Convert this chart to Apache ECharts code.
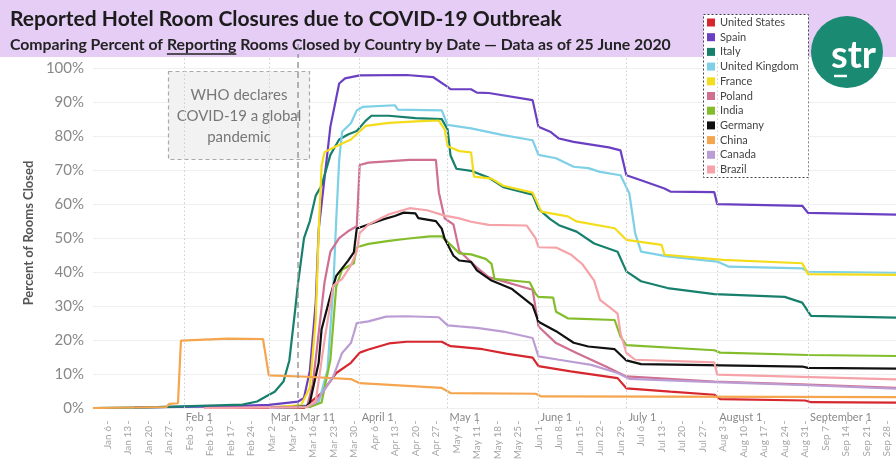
<!DOCTYPE html>
<html>
<head>
<meta charset="utf-8">
<script src="https://cdn.jsdelivr.net/npm/echarts@6/dist/echarts.min.js"></script>
<style>
  html, body { margin: 0; padding: 0; background: #fff; }
  #chart { width: 896px; height: 470px; }
</style>
</head>
<body>
<div id="chart"></div>
<script>
// 字体
const FONT = 'Lato, "Noto Sans", sans-serif';
const MONTHS = ['Jan', 'Feb', 'Mar', 'Apr', 'May', 'Jun', 'Jul', 'Aug', 'Sep', 'Oct', 'Nov', 'Dec'];

// 'M/D' (2020) -> days since Jan 6
const day = s => {
  const [m, d] = s.split('/').map(Number);
  return (Date.UTC(2020, m - 1, d) - Date.UTC(2020, 0, 6)) / 864e5;
};

// ---- data (percent of reporting rooms closed) ----
const countries = ['United States', 'Spain', 'Italy', 'United Kingdom', 'France', 'Poland',
  'India', 'Germany', 'China', 'Canada', 'Brazil'];
const colors = ['#d6272e', '#6b3fc2', '#17806d', '#7dd0e6', '#f5dc1a', '#cf6f91',
  '#84bd2b', '#111111', '#f5a54e', '#bb9dd4', '#f5a3a8'];

const usData = [['2/19', 0], ['3/13', 0], ['3/15', 1.6], ['3/19', 4.4], ['3/24', 10.3], ['3/29', 13.3],
  ['4/1', 16.3], ['4/4', 17.2], ['4/11', 19], ['4/17', 19.5], ['4/29', 19.5], ['5/2', 18.2], ['5/5', 18],
  ['5/13', 17.3], ['5/21', 16], ['5/30', 14.8], ['6/1', 12.3], ['6/12', 10.8], ['6/28', 8.8], ['7/1', 5.8],
  ['7/16', 4.8], ['7/31', 3.9], ['8/2', 2.6], ['8/31', 2.2], ['9/2', 1.7], ['10/1', 1.6]];
const spainData = [['1/15', 0.2], ['2/15', 0.5], ['3/1', 0.9], ['3/11', 1.9], ['3/13', 3], ['3/15', 11],
  ['3/17', 31], ['3/18', 52.4], ['3/22', 82.8], ['3/25', 95.5], ['3/27', 97], ['4/1', 97.9], ['4/17', 98],
  ['4/26', 97.4], ['5/1', 94.5], ['5/2', 93.8], ['5/9', 93.8], ['5/11', 92.8], ['5/15', 92.7], ['5/30', 90.6],
  ['6/1', 82.8], ['6/5', 81.3], ['6/8', 79.3], ['6/13', 78.3], ['6/25', 76.7], ['6/29', 75.8], ['7/1', 68.5],
  ['7/6', 67], ['7/14', 64.6], ['7/16', 63.7], ['7/31', 63.5], ['8/1', 60], ['8/30', 59.5], ['9/1', 57.4],
  ['10/1', 56.9]];
const italyData = [['1/1', 0], ['1/20', 0.2], ['2/21', 1], ['2/26', 1.9], ['2/29', 3.4], ['3/3', 4.8],
  ['3/6', 7.8], ['3/8', 14], ['3/10', 29], ['3/11', 37], ['3/13', 50], ['3/15', 55], ['3/17', 62.5],
  ['3/19', 65.5], ['3/22', 74.5], ['3/25', 79], ['3/28', 80.5], ['3/31', 81.5], ['4/3', 84.5], ['4/5', 86],
  ['4/11', 86], ['4/20', 85.3], ['4/29', 85], ['5/1', 82], ['5/2', 74.3], ['5/4', 70.4], ['5/9', 69.8],
  ['5/15', 67.8], ['5/20', 65], ['5/30', 62.8], ['6/1', 58.6], ['6/5', 55.6], ['6/8', 53.8], ['6/14', 51.9],
  ['6/20', 48.4], ['6/28', 46], ['7/1', 40.2], ['7/6', 37.3], ['7/15', 35.3], ['7/31', 33.5], ['8/24', 32.7],
  ['8/30', 31], ['9/2', 27.1], ['10/1', 26.6]];
const ukData = [['3/1', 0.2], ['3/14', 0.8], ['3/18', 1.6], ['3/21', 11.2], ['3/23', 35.6], ['3/24', 55.4],
  ['3/25', 73], ['3/26', 81.3], ['3/29', 83.8], ['3/31', 87.6], ['4/2', 88.6], ['4/13', 89.1], ['4/14', 87.8],
  ['4/29', 87.6], ['5/1', 83.3], ['5/5', 82.8], ['5/9', 82.3], ['5/20', 80.3], ['5/30', 78.8], ['6/1', 74.5],
  ['6/7', 73.5], ['6/13', 71], ['6/18', 70.6], ['6/22', 69.5], ['6/29', 68.5], ['7/2', 63.2], ['7/4', 51.4],
  ['7/6', 46], ['7/15', 44.6], ['8/1', 43.1], ['8/5', 41.6], ['8/30', 41.1], ['9/1', 40.1], ['10/1', 39.8]];
const franceData = [['3/1', 0.2], ['3/12', 0.8], ['3/15', 6], ['3/17', 26], ['3/18', 51.5], ['3/19', 71.3],
  ['3/20', 75.3], ['3/24', 77], ['3/29', 79], ['4/3', 83], ['4/11', 83.9], ['4/22', 84.4], ['4/28', 84.6],
  ['4/30', 82], ['5/1', 77], ['5/5', 75.6], ['5/9', 75.2], ['5/10', 68.1], ['5/16', 67.5], ['5/20', 65.4],
  ['5/30', 63.4], ['6/2', 57.8], ['6/11', 56.4], ['6/14', 54.9], ['6/27', 52.9], ['7/1', 49.5], ['7/13', 48],
  ['7/14', 45.1], ['8/3', 43.6], ['8/30', 42.6], ['9/1', 39.4], ['10/1', 39.2]];
const polandData = [['2/8', 0], ['3/14', 0.3], ['3/16', 7], ['3/20', 37], ['3/22', 46], ['3/25', 50],
  ['3/28', 52], ['3/31', 53.5], ['4/1', 71.5], ['4/4', 72.2], ['4/18', 73], ['4/27', 73], ['4/28', 63.5],
  ['4/30', 55.8], ['5/3', 54], ['5/5', 46.2], ['5/11', 41.3], ['5/15', 38.5], ['5/30', 34.8], ['6/1', 24],
  ['6/7', 19.1], ['6/14', 16.2], ['6/24', 12.2], ['7/1', 9.3], ['7/31', 7.8], ['9/1', 6.9], ['10/1', 5.9]];
const indiaData = [['3/1', 0], ['3/15', 0.3], ['3/19', 1.6], ['3/22', 14.2], ['3/24', 35.8], ['3/26', 40.7],
  ['3/30', 42.6], ['3/31', 47.3], ['4/4', 48.3], ['4/11', 49.2], ['4/17', 49.8], ['4/25', 50.5], ['4/29', 50.5],
  ['5/3', 47.2], ['5/5', 45.5], ['5/9', 45.2], ['5/14', 43.9], ['5/16', 42.4], ['5/17', 38], ['5/29', 37],
  ['5/31', 33.6], ['6/1', 32.7], ['6/6', 32.5], ['6/7', 28.3], ['6/11', 26.4], ['6/27', 25.9], ['6/29', 21],
  ['7/1', 18.5], ['7/31', 17], ['8/2', 16.3], ['9/1', 15.6], ['10/1', 15.3]];
const germanyData = [['3/1', 0], ['3/14', 0.5], ['3/15', 1.6], ['3/18', 13.3], ['3/19', 23.2], ['3/22', 33],
  ['3/24', 38.9], ['3/28', 43.3], ['3/30', 45.8], ['3/31', 52.8], ['4/4', 54], ['4/9', 55.5], ['4/13', 56.5],
  ['4/16', 57.5], ['4/20', 57.3], ['4/21', 55.9], ['4/27', 55], ['4/29', 52.8], ['4/30', 49.8], ['5/3', 44.8],
  ['5/5', 43.4], ['5/9', 43], ['5/11', 40.5], ['5/16', 37.5], ['5/23', 35], ['5/30', 30.2], ['6/1', 25.4],
  ['6/7', 22.6], ['6/13', 19.2], ['6/18', 18.1], ['6/27', 17.3], ['7/1', 14], ['7/6', 12.9], ['8/30', 12.2],
  ['9/1', 11.8], ['10/1', 11.6]];
const chinaData = [['1/1', 0], ['1/26', 0.3], ['1/27', 1.2], ['1/30', 1.4], ['1/31', 19.8], ['2/16', 20.4],
  ['2/28', 20.3], ['3/1', 9.6], ['3/14', 9.2], ['3/29', 8.5], ['4/1', 7.3], ['4/29', 5.9], ['5/2', 4.4],
  ['5/31', 4.2], ['6/2', 3.4], ['10/1', 3.2]];
const canadaData = [['3/1', 0], ['3/14', 0.3], ['3/17', 1.6], ['3/23', 9.3], ['3/26', 16.2], ['3/29', 19.1],
  ['3/30', 22], ['3/31', 25], ['4/4', 25.5], ['4/10', 26.9], ['4/17', 27], ['4/28', 26.7], ['5/1', 24.3],
  ['5/5', 24], ['5/11', 23.6], ['5/20', 22.5], ['5/30', 20.6], ['6/1', 15.2], ['6/8', 14.2], ['6/19', 12.7],
  ['6/28', 10.3], ['7/2', 8.6], ['7/31', 7.6], ['9/1', 6.7], ['10/1', 5.7]];
const brazilData = [['2/8', 0], ['3/14', 0.3], ['3/17', 2], ['3/20', 20], ['3/23', 36], ['3/26', 38],
  ['3/29', 42], ['3/31', 46], ['4/1', 51.5], ['4/4', 54], ['4/11', 57], ['4/18', 58.8], ['4/24', 58.2],
  ['4/30', 56.6], ['5/5', 55.8], ['5/9', 54.8], ['5/15', 53.9], ['5/28', 53.7], ['5/31', 50], ['6/1', 47.3],
  ['6/7', 47.2], ['6/12', 45.2], ['6/16', 42.3], ['6/20', 37.5], ['6/22', 31.8], ['6/25', 29.8], ['6/28', 27.8],
  ['6/29', 22], ['7/1', 16.2], ['7/4', 14.2], ['7/31', 13.4], ['8/1', 9.8], ['10/1', 8.4]];

const seriesData = [usData, spainData, italyData, ukData, franceData, polandData,
  indiaData, germanyData, chinaData, canadaData, brazilData];

// ---- axis ticks / markers ----
const weekTicks = ['1/6', '1/13', '1/20', '1/27', '2/3', '2/10', '2/17', '2/24', '3/2', '3/9', '3/16', '3/23',
  '3/30', '4/6', '4/13', '4/20', '4/27', '5/4', '5/11', '5/18', '5/25', '6/1', '6/8', '6/15', '6/22', '6/29',
  '7/6', '7/13', '7/20', '7/27', '8/3', '8/10', '8/17', '8/24', '8/31', '9/7', '9/14', '9/21', '9/28'];
const monthMarks = [['2/1', 'Feb 1'], ['3/1', 'Mar 1'], ['4/1', 'April 1'], ['5/1', 'May 1'],
  ['6/1', 'June 1'], ['7/1', 'July 1'], ['8/1', 'August 1'], ['9/1', 'September 1']];
const whoMark = ['3/11', 'Mar 11'];
const xRange = ['1/1', '10/1'];

const titleText = 'Reported Hotel Room Closures due to COVID-19 Outbreak';
const subParts = ['Comparing Percent of ', 'Reporting', ' Rooms Closed by Country by Date \u2014 Data as of 25 June 2020'];
const noteText = 'WHO declares\nCOVID-19 a global\npandemic';

// ---- build ----
const weekVals = weekTicks.map(day);
const markLabels = {};
monthMarks.concat([whoMark]).forEach(([d, t]) => { markLabels[day(d)] = t; });
const markVals = Object.keys(markLabels).map(Number).sort((a, b) => a - b);

const weekName = v => {
  const dt = new Date(Date.UTC(2020, 0, 6) + v * 864e5);
  return MONTHS[dt.getUTCMonth()] + ' ' + dt.getUTCDate();
};

const SUB_FONT = 'bold 15.8px ' + FONT;
const ctx = document.createElement('canvas').getContext('2d');
ctx.font = SUB_FONT;
const subW0 = ctx.measureText(subParts[0]).width;
const subW1 = ctx.measureText(subParts[1]).width;

const chart = echarts.init(document.getElementById('chart'));

const baseGraphic = [
  { type: 'rect', shape: { x: 0, y: 0, width: 896, height: 57 }, style: { fill: '#e5cdf5' }, z: 0 },
  { type: 'text', x: 10, y: 19, z: 1, style: { text: titleText, font: 'bold 21px ' + FONT, fill: '#1c1c1c', textVerticalAlign: 'middle' } },
  { type: 'text', x: 10, y: 45, z: 1, style: { text: subParts.join(''), font: SUB_FONT, fill: '#222', textVerticalAlign: 'middle' } },
  { type: 'line', z: 1, shape: { x1: 10 + subW0, y1: 54, x2: 10 + subW0 + subW1, y2: 54 }, style: { stroke: '#222', lineWidth: 1.3 } },
  // legend frame
  { type: 'rect', z: 3, shape: { x: 703.5, y: 14.5, width: 105, height: 163 }, style: { fill: '#fff', stroke: '#444', lineWidth: 1, lineDash: [2, 2] } },
  // logo
  { type: 'circle', z: 3, shape: { cx: 847, cy: 52, r: 36 }, style: { fill: '#1a8a72' } },
  { type: 'text', z: 4, x: 831, y: 56, style: { text: 'str', font: 'bold 38px ' + FONT, fill: '#fff', textVerticalAlign: 'middle' } },
  { type: 'line', z: 4, shape: { x1: 834, y1: 76, x2: 847, y2: 76 }, style: { stroke: '#fff', lineWidth: 2.5 } },
  // annotation
  { type: 'rect', z: 3, shape: { x: 168.5, y: 71.5, width: 141, height: 88 }, style: { fill: '#f2f2f2', stroke: '#aaa', lineWidth: 1.2, lineDash: [4, 3] } },
  { type: 'text', z: 4, x: 239, y: 116, style: { text: noteText, font: '15px ' + FONT, fill: '#777', textAlign: 'center', textVerticalAlign: 'middle', lineHeight: 21 } }
];

const option = {
  animation: false,
  backgroundColor: '#fff',
  grid: { left: 93, right: 0, top: 58, bottom: 62 },
  legend: {
    orient: 'vertical', left: 707, top: 17, padding: 0,
    itemWidth: 8, itemHeight: 8, itemGap: 3.7, icon: 'rect',
    selectedMode: false, z: 5,
    data: countries,
    textStyle: { color: '#444', fontSize: 11, lineHeight: 11, fontFamily: FONT }
  },
  xAxis: [
    {
      type: 'value', min: day(xRange[0]), max: day(xRange[1]),
      axisLine: { show: false }, axisTick: { show: false }, splitLine: { show: false },
      axisLabel: {
        customValues: markVals, formatter: v => markLabels[v] || '',
        align: 'left', padding: [0, 0, 0, 2], margin: 4,
        color: '#888', fontSize: 11, fontFamily: FONT
      }
    },
    {
      type: 'value', min: day(xRange[0]), max: day(xRange[1]), position: 'bottom', offset: 13,
      axisLine: { show: false }, splitLine: { show: false },
      axisTick: { show: true, customValues: weekVals, length: 3, lineStyle: { color: '#bbb' } },
      axisLabel: {
        customValues: weekVals, formatter: weekName, rotate: 90, margin: 5,
        color: '#a5a5a5', fontSize: 10, fontFamily: FONT
      }
    }
  ],
  yAxis: {
    type: 'value', min: 0, max: 103, interval: 10,
    name: 'Percent of Rooms Closed', nameLocation: 'middle', nameGap: 58,
    nameTextStyle: { color: '#555', fontSize: 13, fontWeight: 'bold', fontFamily: FONT },
    axisLine: { show: false }, axisTick: { show: false },
    splitLine: { showMaxLine: false, lineStyle: { color: '#efefef' } },
    axisLabel: {
      formatter: v => (v % 10 === 0 && v <= 100 ? v + '%' : ''),
      color: '#888', fontSize: 15, margin: 9, fontFamily: FONT
    }
  },
  series: [
    {
      type: 'line', data: [], silent: true, z: 1,
      markLine: {
        symbol: 'none', silent: true, label: { show: false }, animation: false,
        lineStyle: { color: '#cfcfcf', type: [1.5, 2.5], width: 1 },
        data: monthMarks.map(([d]) => ({ xAxis: day(d) })).concat([
          { xAxis: day(whoMark[0]), lineStyle: { color: '#9a9a9a', type: [6, 4], width: 1.5 } }
        ])
      }
    }
  ].concat(countries.map((name, i) => ({
    name, type: 'line', symbol: 'none', showSymbol: false,
    data: seriesData[i].map(([d, v]) => [day(d), v]),
    lineStyle: { width: 2.2, color: colors[i] },
    itemStyle: { color: colors[i] },
    z: 2
  }))),
  graphic: { elements: baseGraphic }
};

chart.setOption(option);

// WHO line continues above the plot area
const whoX = chart.convertToPixel({ xAxisIndex: 0 }, day(whoMark[0]));
chart.setOption({
  graphic: {
    elements: baseGraphic.concat([
      { type: 'line', z: 1, shape: { x1: whoX, y1: 44, x2: whoX, y2: 58 }, style: { stroke: '#9a9a9a', lineWidth: 1.5, lineDash: [6, 4] } }
    ])
  }
});
</script>
</body>
</html>
